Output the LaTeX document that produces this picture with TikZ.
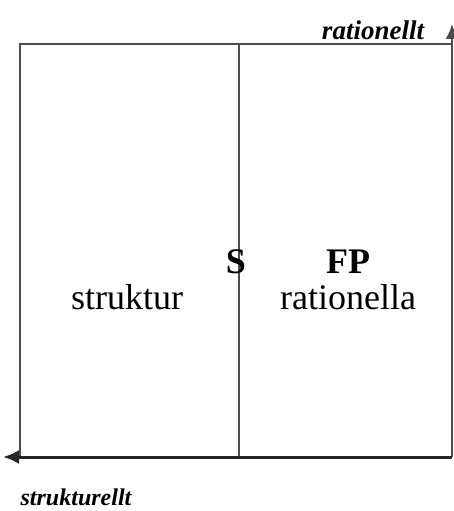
\documentclass[tikz,border=0pt]{standalone}
\usepackage{fontspec}
\setmainfont{Liberation Serif}
\usetikzlibrary{arrows.meta}
\tikzset{
    frame/.style={line width=2pt,black!70},
    axis/.style={line width=3pt,black!85,-{Latex[length=16pt,width=14pt]}},
    big/.style={font=\fontsize{36}{40}\selectfont},
    axislabel/.style={font=\fontsize{24}{28}\selectfont\bfseries\itshape}
}
\begin{document}
\begin{tikzpicture}[x=1pt,y=-1pt]
    \useasboundingbox (0,0) rectangle (453,511);
    \coordinate (tl) at (20,44);
    \coordinate (tm) at (239,44);
    \coordinate (tr) at (452,44);
    \coordinate (bl) at (20,457);
    \coordinate (bm) at (239,457);
    \coordinate (br) at (452,457);
    \coordinate (up) at (452,24);
    \coordinate (lft) at (3,457);
    \draw[frame] (bl) -- (tl) -- (tr);
    \draw[frame] (tm) -- (bm);
    \draw[frame,-{Latex[length=15pt,width=13pt]}] (br) -- (up);
    \draw[axis] (br) -- (lft);
    \node[big] (struktur) at (127,297) {struktur};
    \node[big] (rationella) at (348,297) {rationella};
    \node[big,font=\fontsize{36}{40}\selectfont\bfseries] (fp) at (348,262) {FP};
    \node[big,font=\fontsize{36}{40}\selectfont\bfseries] (s) at (236,262) {S};
    \node[axislabel,font=\fontsize{27}{30}\selectfont\bfseries\itshape] (rationellt) at (373,30) {rationellt};
    \node[axislabel] (strukturellt) at (76,497) {strukturellt};
\end{tikzpicture}
\end{document}
